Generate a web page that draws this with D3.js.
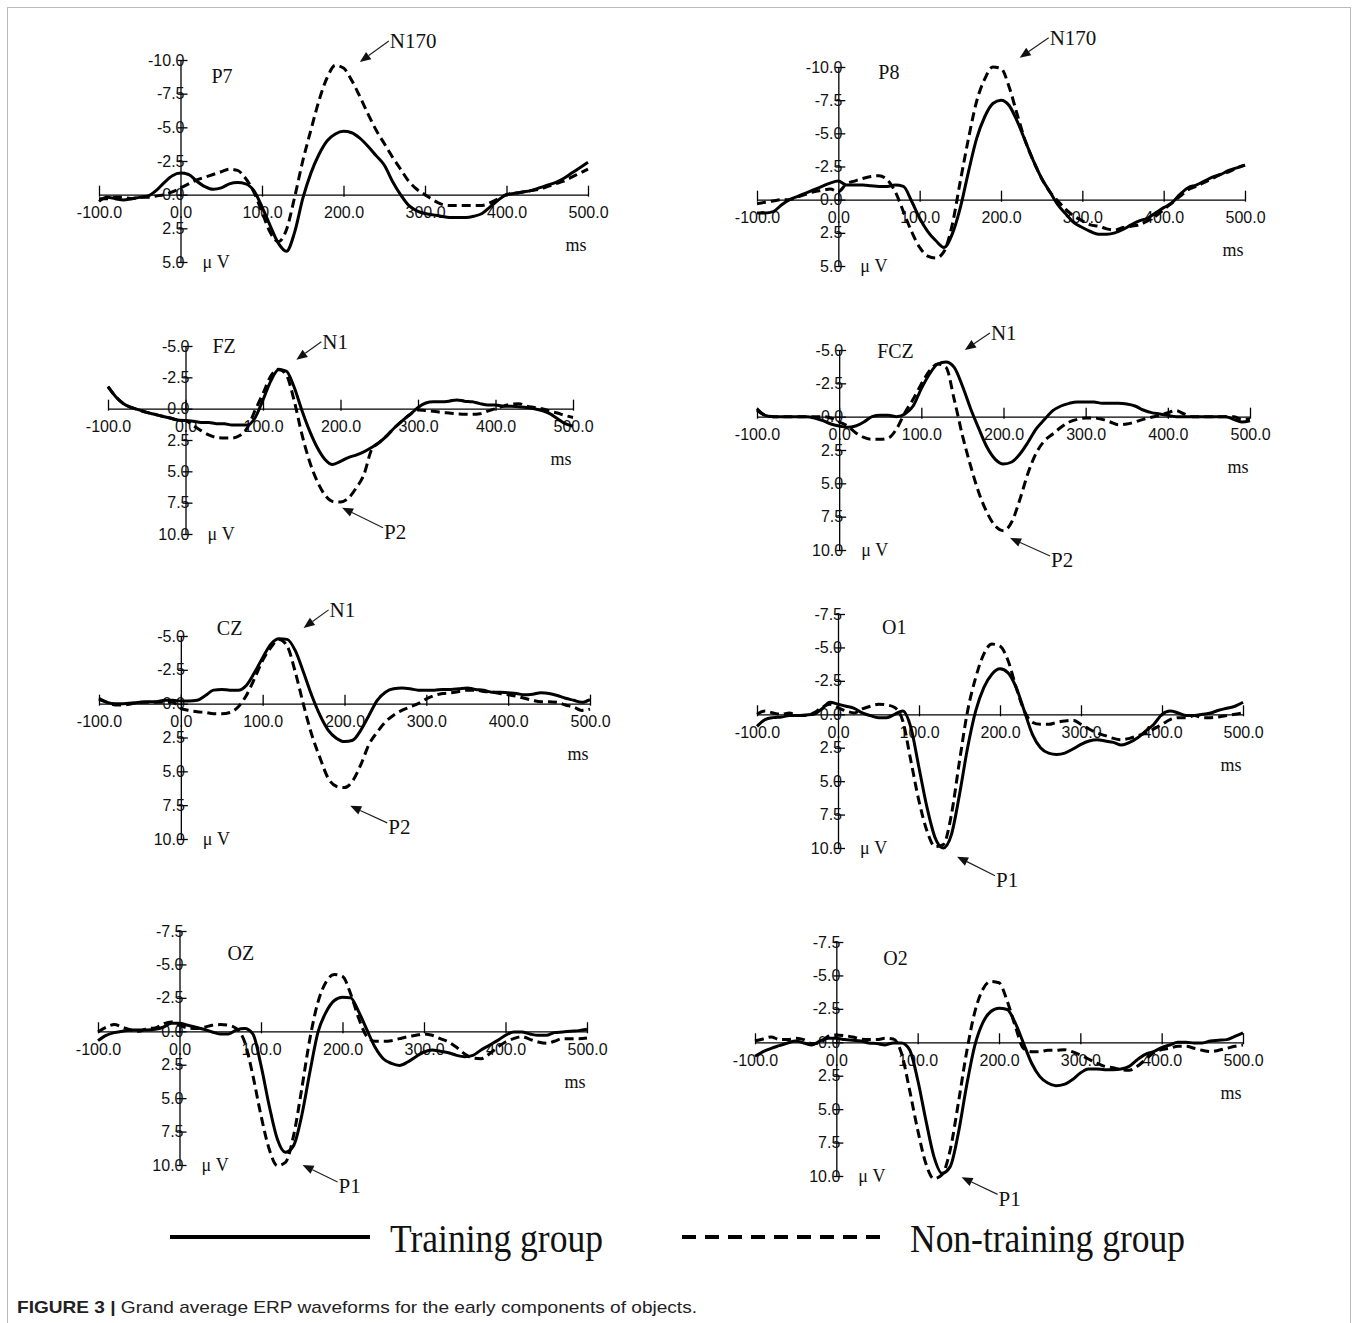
<!DOCTYPE html>
<html>
<head>
<meta charset="utf-8">
<script src="https://cdn.jsdelivr.net/npm/d3@7"></script>
<style>
    body { margin: 0; background: #fff; }
    svg { display: block; }
    .axis text { font-family: "Liberation Sans", Arial, sans-serif; font-size: 16px; fill: #111; }
    .axis path, .axis line { stroke: #000; stroke-width: 1.3; }
    .serif { font-family: "Liberation Serif", "DejaVu Serif", serif; fill: #111; }
</style>
</head>
<body>
<div id="chart-container"></div>
<script>
// sample times (ms) shared by every trace
var times = [-100, -90, -80, -70, -60, -50, -40, -30, -20, -10,
    0, 10, 20, 30, 40, 50, 60, 70, 80, 90,
    100, 110, 120, 130, 140, 150, 160, 170, 180, 190,
    200, 210, 220, 230, 240, 250, 260, 270, 280, 290,
    300, 310, 320, 330, 340, 350, 360, 370, 380, 390,
    400, 410, 420, 430, 440, 450, 460, 470, 480, 490,
    500];

var xTicks = [-100, 0, 100, 200, 300, 400, 500];

var yTicksN170 = [-10, -7.5, -5, -2.5, 0, 2.5, 5];
var yTicksFront = [-5, -2.5, 0, 2.5, 5, 7.5, 10];
var yTicksOcc = [-7.5, -5, -2.5, 0, 2.5, 5, 7.5, 10];

var electrodes = ["P7", "P8", "FZ", "FCZ", "CZ", "O1", "OZ", "O2"];

// amplitudes in uV (negative is drawn upward)
var p7_training = [0.5, 0.2, 0.3, 0.4, 0.3, 0.2, 0.1, -0.3, -0.9, -1.4,
    -1.6, -1.5, -1.0, -0.6, -0.4, -0.5, -0.8, -0.9, -0.8, -0.3,
    0.9, 2.3, 3.6, 4.2, 2.8, 0.3, -1.6, -3.0, -4.0, -4.5,
    -4.7, -4.6, -4.2, -3.6, -2.9, -2.2, -1.0, 0.0, 0.8, 1.2,
    1.4, 1.5, 1.6, 1.7, 1.7, 1.7, 1.6, 1.4, 0.9, 0.4,
    0.0, -0.1, -0.2, -0.3, -0.5, -0.7, -0.9, -1.2, -1.6, -2.0,
    -2.4];
var p7_nontraining = [0.3, 0.3, 0.2, 0.2, 0.3, 0.2, 0.2, 0.1, 0.0, -0.2,
    -0.5, -0.8, -1.1, -1.3, -1.5, -1.7, -1.9, -1.8, -1.2, -0.2,
    1.3, 2.8, 3.5, 2.6, 0.2, -2.5, -4.8, -7.0, -8.7, -9.6,
    -9.4, -8.5, -7.3, -6.0, -4.8, -3.8, -2.8, -1.9, -1.0, -0.4,
    0.0, 0.4, 0.7, 0.8, 0.8, 0.8, 0.8, 0.8, 0.6, 0.3,
    0.0, -0.1, -0.2, -0.3, -0.4, -0.6, -0.8, -1.0, -1.3, -1.6,
    -1.9];

var p8_training = [1.0, 1.0, 0.9, 0.4, 0.0, -0.25, -0.5, -0.75, -1.0, -1.25,
    -1.4, -1.1, -1.1, -1.1, -1.05, -1.0, -1.0, -1.1, -1.0, 0.1,
    1.4, 2.4, 3.1, 3.6, 2.6, 0.6, -2.1, -4.6, -6.25, -7.25,
    -7.5, -7.1, -5.9, -4.4, -2.9, -1.6, -0.6, 0.4, 1.1, 1.75,
    2.1, 2.4, 2.6, 2.6, 2.5, 2.25, 1.9, 1.6, 1.4, 1.0,
    0.6, 0.25, -0.4, -0.9, -1.1, -1.4, -1.7, -1.9, -2.2, -2.4,
    -2.6];
var p8_nontraining = [0.3, 0.2, 0.1, 0.0, 0.0, -0.2, -0.4, -0.6, -0.7, -0.8,
    -0.6, -1.2, -1.4, -1.6, -1.75, -1.8, -1.5, -0.6, 0.9, 2.4,
    3.6, 4.25, 4.4, 3.9, 1.9, -1.4, -4.6, -7.4, -9.1, -10.0,
    -9.9, -8.5, -6.4, -4.4, -2.9, -1.6, -0.6, 0.1, 0.75, 1.25,
    1.6, 1.9, 2.0, 2.2, 2.3, 2.1, 2.0, 1.9, 1.6, 1.25,
    0.75, 0.25, -0.25, -0.75, -1.0, -1.3, -1.6, -1.9, -2.1, -2.4,
    -2.6];

var fz_training = [-1.75, -0.95, -0.4, -0.1, 0.1, 0.3, 0.45, 0.6, 0.75, 0.9,
    0.95, 1.0, 1.1, 1.1, 1.2, 1.2, 1.3, 1.3, 1.3, 0.7,
    -0.7, -2.2, -3.1, -3.0, -1.75, 0.1, 1.75, 3.1, 4.05, 4.45,
    4.2, 3.9, 3.7, 3.45, 3.1, 2.7, 2.15, 1.5, 0.95, 0.45,
    -0.1, -0.45, -0.55, -0.55, -0.6, -0.7, -0.6, -0.55, -0.4, -0.3,
    -0.3, -0.2, -0.2, -0.15, -0.1, 0.0, 0.15, 0.4, 0.8, 1.2,
    1.4];
var fz_nontraining = [-1.75, -0.95, -0.4, -0.1, 0.1, 0.3, 0.45, 0.6, 0.75, 0.9,
    0.95, 1.35, 1.75, 2.1, 2.3, 2.35, 2.35, 2.15, 1.5, 0.1,
    -1.2, -2.6, -3.15, -2.7, -0.7, 2.0, 4.2, 5.8, 6.9, 7.4,
    7.45, 7.15, 6.35, 5.3, 3.3, 2.7, 2.15, 1.5, 0.95, 0.45,
    0.1, 0.15, 0.2, 0.3, 0.35, 0.4, 0.45, 0.45, 0.4, 0.2,
    0.0, -0.2, -0.35, -0.4, -0.2, -0.1, 0.0, 0.2, 0.35, 0.55,
    0.7];

var fcz_training = [-0.6, -0.1, 0, 0, 0, 0, 0, 0.1, 0.3, 0.55,
    0.7, 0.8, 0.7, 0.4, 0.0, -0.1, -0.1, 0.0, -0.2, -0.8,
    -2.1, -3.2, -3.95, -4.1, -3.7, -2.3, -0.6, 0.9, 2.3, 3.2,
    3.55, 3.4, 2.8, 1.9, 0.9, 0.2, -0.45, -0.8, -1.0, -1.1,
    -1.1, -1.1, -1.0, -1.0, -1.0, -0.95, -0.8, -0.5, -0.3, -0.2,
    -0.1, 0, 0, 0, 0, 0, 0, 0, 0.2, 0.4,
    0.3];
var fcz_nontraining = [-0.5, -0.1, 0, 0, 0, 0, 0, 0, 0, 0.1,
    0.4, 0.7, 1.2, 1.55, 1.7, 1.7, 1.6, 0.9, -0.3, -1.3,
    -2.45, -3.45, -3.95, -3.7, -1.3, 1.4, 3.7, 5.7, 7.2, 8.2,
    8.55, 7.9, 6.2, 4.2, 2.7, 1.8, 1.3, 0.8, 0.4, 0.2,
    0.1, 0.1, 0.2, 0.4, 0.6, 0.55, 0.4, 0.2, 0.05, -0.1,
    -0.3, -0.45, -0.2, 0, 0, 0, 0, 0, 0, 0.2,
    0.2];

var cz_training = [-0.4, -0.1, 0, 0, -0.05, -0.1, -0.15, -0.15, -0.25, -0.25,
    -0.2, -0.2, -0.25, -0.6, -1.0, -1.05, -1.0, -1.0, -1.35, -2.3,
    -3.4, -4.4, -4.8, -4.75, -3.9, -2.3, -0.6, 0.85, 1.95, 2.55,
    2.8, 2.7, 1.95, 0.85, -0.25, -0.85, -1.1, -1.15, -1.1, -1.0,
    -1.0, -1.0, -1.05, -1.05, -1.1, -1.15, -1.05, -1.0, -0.85, -0.85,
    -0.8, -0.75, -0.65, -0.7, -0.8, -0.75, -0.6, -0.4, -0.25, -0.1,
    -0.3];
var cz_nontraining = [-0.3, -0.1, 0.1, 0.1, 0, -0.1, -0.1, -0.1, -0.1, -0.1,
    0.35, 0.5, 0.6, 0.65, 0.75, 0.75, 0.65, 0.25, -0.6, -1.85,
    -3.2, -4.15, -4.75, -4.25, -2.3, 0.1, 2.3, 4.0, 5.5, 6.1,
    6.2, 5.7, 4.5, 3.0, 2.1, 1.35, 0.85, 0.5, 0.25, 0.0,
    -0.35, -0.6, -0.75, -0.8, -0.9, -1.0, -1.0, -0.9, -0.85, -0.75,
    -0.65, -0.55, -0.4, -0.25, -0.15, -0.15, -0.1, 0.1, 0.25, 0.5,
    0.4];

var o1_training = [0.9, 0.4, 0.25, 0.2, 0.1, 0.1, 0.05, 0, -0.4, -0.9,
    -0.75, -0.6, -0.45, -0.1, 0.1, 0.25, 0.25, 0, -0.25, 1.0,
    4.0, 7.0, 9.25, 10.0, 9.0, 6.0, 2.5, -0.25, -2.0, -3.0,
    -3.4, -3.1, -2.0, -0.25, 1.5, 2.5, 2.9, 3.0, 2.9, 2.6,
    2.25, 2.0, 1.9, 2.0, 2.1, 2.3, 2.1, 1.75, 1.25, 0.75,
    0, -0.25, -0.1, 0.1, 0.1, 0, -0.1, -0.3, -0.45, -0.6,
    -0.9];
var o1_nontraining = [0, -0.25, -0.1, 0, -0.1, 0.1, 0.1, -0.1, -0.5, -0.75,
    -0.5, -0.25, -0.1, -0.4, -0.6, -0.75, -0.7, -0.5, 0.5, 3.5,
    6.5, 8.75, 9.9, 9.75, 7.5, 3.5, -0.25, -2.75, -4.5, -5.25,
    -5.1, -4.0, -2.0, -0.25, 0.6, 0.75, 0.75, 0.6, 0.5, 0.45,
    0.75, 1.1, 1.4, 1.6, 1.8, 1.9, 1.8, 1.6, 1.4, 1.1,
    0.75, 0.4, 0.25, 0.25, 0.1, 0.25, 0.25, 0.2, 0.1, 0,
    -0.1];

var oz_training = [0.7, 0.3, 0.1, 0, -0.1, -0.1, -0.1, -0.15, -0.3, -0.6,
    -0.6, -0.45, -0.3, -0.15, 0.05, 0.2, 0.2, -0.1, -0.2, 0.2,
    2.55, 5.55, 8.05, 9.05, 8.55, 6.3, 3.05, 0.05, -1.45, -2.3,
    -2.55, -2.5, -1.45, -0.1, 1.2, 2.05, 2.4, 2.55, 2.3, 1.9,
    1.55, 1.4, 1.5, 1.6, 1.8, 1.9, 1.8, 1.4, 1.05, 0.7,
    0.3, 0.05, 0.05, 0.2, 0.3, 0.3, 0.1, 0.05, 0, -0.05,
    -0.15];
var oz_nontraining = [0.05, -0.3, -0.5, -0.3, -0.1, 0, -0.2, -0.25, -0.55, -0.7,
    -0.45, -0.25, -0.2, -0.3, -0.45, -0.5, -0.45, -0.2, 0.8, 3.3,
    6.3, 8.8, 10.05, 9.8, 7.8, 4.3, 0.55, -2.2, -3.7, -4.25,
    -4.1, -2.8, -0.95, 0.4, 0.75, 0.75, 0.7, 0.55, 0.4, 0.3,
    0.2, 0.3, 0.55, 0.8, 1.2, 1.7, 2.0, 2.05, 1.7, 1.2,
    0.8, 0.55, 0.4, 0.6, 0.8, 0.9, 0.75, 0.55, 0.55, 0.55,
    0.5];

var o2_training = [1.05, 0.7, 0.45, 0.25, 0.05, -0.1, 0.05, 0.2, -0.1, -0.3,
    -0.3, -0.2, -0.15, -0.1, 0.05, 0.1, 0.2, 0.05, 0.05, 0.55,
    2.8, 5.8, 8.55, 9.8, 9.3, 6.8, 3.3, 0.3, -1.45, -2.3,
    -2.55, -2.45, -1.45, 0.05, 1.55, 2.55, 3.05, 3.25, 3.15, 2.8,
    2.3, 2.0, 2.0, 2.05, 2.05, 2.0, 1.8, 1.3, 0.9, 0.7,
    0.4, 0.2, 0, 0, 0.05, 0.05, -0.1, -0.15, -0.2, -0.45,
    -0.7];
var o2_nontraining = [-0.1, -0.25, -0.4, -0.2, -0.2, -0.3, -0.2, 0.1, 0.05, -0.45,
    -0.55, -0.5, -0.4, -0.25, -0.2, -0.2, -0.3, -0.25, 0.8, 3.55,
    6.55, 9.05, 10.2, 9.9, 8.05, 4.55, 0.8, -2.2, -3.95, -4.55,
    -4.45, -3.1, -1.2, 0.45, 0.7, 0.7, 0.6, 0.6, 0.55, 0.7,
    0.95, 1.25, 1.55, 1.8, 1.9, 2.05, 2.1, 1.8, 1.3, 0.8,
    0.55, 0.45, 0.3, 0.3, 0.45, 0.6, 0.7, 0.6, 0.45, 0.3,
    0.2];

var trainingSeries = [p7_training, p8_training, fz_training, fcz_training,
    cz_training, o1_training, oz_training, o2_training];
var nontrainingSeries = [p7_nontraining, p8_nontraining, fz_nontraining, fcz_nontraining,
    cz_nontraining, o1_nontraining, oz_nontraining, o2_nontraining];
var yTickSets = [yTicksN170, yTicksN170, yTicksFront, yTicksFront,
    yTicksFront, yTicksOcc, yTicksOcc, yTicksOcc];

// component labels: panel index, text, time (ms) and amplitude (uV) of the arrow tip
var componentPanel = [0, 1, 2, 2, 3, 3, 4, 4, 5, 6, 7];
var componentText = ["N170", "N170", "N1", "P2", "N1", "P2", "N1", "P2", "P1", "P1", "P1"];
var componentTime = [220, 223, 143, 202, 153, 208, 150, 207, 147, 151, 154];
var componentAmp = [-9.85, -10.7, -3.9, 7.9, -5.0, 9.1, -5.6, 7.55, 10.65, 10.0, 10.1];

var legendLabels = ["Training group", "Non-training group"];

// page layout (pixels)
var panelBoxes = [
    { left: 99, right: 588, top: 60, bottom: 262, lx: 31, ly: 16 },
    { left: 757, right: 1245, top: 67, bottom: 266, lx: 40, ly: 5 },
    { left: 108, right: 573, top: 346, bottom: 534, lx: 27, ly: 0 },
    { left: 757, right: 1250, top: 350, bottom: 550, lx: 38, ly: 1 },
    { left: 99, right: 590, top: 636, bottom: 839, lx: 36, ly: -8 },
    { left: 757, right: 1243, top: 614, bottom: 848, lx: 44, ly: 13 },
    { left: 98, right: 587, top: 931, bottom: 1165, lx: 48, ly: 22 },
    { left: 755, right: 1243, top: 942, bottom: 1176, lx: 47, ly: 16 }
];
// arrow tail offset from the tip for each component label
var componentTail = [[29, -21], [29, -20], [25, -18], [41, 20], [25, -17], [40, 18],
    [25, -18], [37, 17], [38, 19], [35, 17], [36, 17]];

function fmt(d) {
    return d.toFixed(1);
}

function draw_panel(svg, i) {
    var box = panelBoxes[i];
    var yTicks = yTickSets[i];

    // Step 1: scales
    var x = d3.scaleLinear().domain([-100, 500]).range([box.left, box.right]);
    var y = d3.scaleLinear()
        .domain([yTicks[0], yTicks[yTicks.length - 1]])
        .range([box.top, box.bottom]);

    var g = svg.append("g");

    // Step 2: x axis through zero, ticks pointing up
    var xAxis = d3.axisBottom(x)
        .tickValues(xTicks)
        .tickFormat(fmt)
        .tickSizeInner(-9)
        .tickSizeOuter(0)
        .tickPadding(12);
    var gx = g.append("g")
        .attr("class", "axis")
        .attr("transform", `translate(0,${y(0)})`)
        .call(xAxis);
    gx.selectAll(".tick line").attr("y1", 2);

    // Step 3: y axis at time zero, crossing ticks
    var yAxis = d3.axisLeft(y)
        .tickValues(yTicks)
        .tickFormat(fmt)
        .tickSizeInner(-7)
        .tickSizeOuter(0)
        .tickPadding(-4);
    var gy = g.append("g")
        .attr("class", "axis")
        .attr("transform", `translate(${x(0)},0)`)
        .call(yAxis);
    gy.selectAll(".tick line").attr("x1", -3);
    g.selectAll(".axis").attr("font-family", null).attr("font-size", null);

    // Step 4: waveforms
    var line = d3.line()
        .x((d, k) => x(times[k]))
        .y(d => y(d))
        .curve(d3.curveMonotoneX);

    g.append("path")
        .datum(nontrainingSeries[i])
        .attr("d", line)
        .attr("fill", "none")
        .attr("stroke", "#000")
        .attr("stroke-width", 3)
        .attr("stroke-dasharray", "9,5");

    g.append("path")
        .datum(trainingSeries[i])
        .attr("d", line)
        .attr("fill", "none")
        .attr("stroke", "#000")
        .attr("stroke-width", 3);

    // Step 5: electrode name, units
    g.append("text")
        .attr("class", "serif")
        .attr("x", x(0) + box.lx)
        .attr("y", y(yTicks[0]) + box.ly)
        .attr("dy", "0.35em")
        .attr("font-size", 20)
        .text(electrodes[i]);

    g.append("text")
        .attr("class", "serif")
        .attr("x", x(0) + 22)
        .attr("y", y(yTicks[yTicks.length - 1]))
        .attr("dy", "0.35em")
        .attr("font-size", 18)
        .text("\u03bc V");

    g.append("text")
        .attr("class", "serif")
        .attr("x", x(500) - 12)
        .attr("y", y(0) + 50)
        .attr("dy", "0.35em")
        .attr("text-anchor", "middle")
        .attr("font-size", 18)
        .text("ms");

    // Step 6: component arrows
    componentPanel.forEach(function(p, c) {
        if (p !== i) return;
        var tx = x(componentTime[c]), ty = y(componentAmp[c]);
        var ex = tx + componentTail[c][0], ey = ty + componentTail[c][1];
        var ang = Math.atan2(ey - ty, ex - tx);
        var len = 11, half = 4.5;
        var bx = tx + len * Math.cos(ang), by = ty + len * Math.sin(ang);
        g.append("line")
            .attr("x1", bx).attr("y1", by)
            .attr("x2", ex).attr("y2", ey)
            .attr("stroke", "#222")
            .attr("stroke-width", 1.2);
        g.append("path")
            .attr("d", d3.line()([
                [tx, ty],
                [bx - half * Math.sin(ang), by + half * Math.cos(ang)],
                [bx + half * Math.sin(ang), by - half * Math.cos(ang)]
            ]) + "Z")
            .attr("fill", "#111");
        g.append("text")
            .attr("class", "serif")
            .attr("x", ex + 1)
            .attr("y", ey + (componentTail[c][1] > 0 ? 4 : 0))
            .attr("dy", "0.35em")
            .attr("font-size", 21)
            .text(componentText[c]);
    });
}

function init() {
    var svg = d3.select("#chart-container")
        .append("svg")
        .attr("width", 1358)
        .attr("height", 1323);

    // frame around the figure
    svg.append("rect")
        .attr("x", 7.5).attr("y", 7.5)
        .attr("width", 1343).attr("height", 1330)
        .attr("fill", "none")
        .attr("stroke", "#bbb")
        .attr("stroke-width", 1);

    for (var i = 0; i < electrodes.length; i++) {
        draw_panel(svg, i);
    }

    // legend
    svg.append("line")
        .attr("x1", 170).attr("x2", 370)
        .attr("y1", 1237).attr("y2", 1237)
        .attr("stroke", "#000").attr("stroke-width", 4);
    svg.append("text")
        .attr("class", "serif")
        .attr("x", 390).attr("y", 1252)
        .attr("font-size", 40)
        .attr("textLength", 213)
        .attr("lengthAdjust", "spacingAndGlyphs")
        .text(legendLabels[0]);
    svg.append("line")
        .attr("x1", 682).attr("x2", 880)
        .attr("y1", 1237).attr("y2", 1237)
        .attr("stroke", "#000").attr("stroke-width", 4)
        .attr("stroke-dasharray", "14,9");
    svg.append("text")
        .attr("class", "serif")
        .attr("x", 910).attr("y", 1252)
        .attr("font-size", 40)
        .attr("textLength", 275)
        .attr("lengthAdjust", "spacingAndGlyphs")
        .text(legendLabels[1]);

    // caption
    var cap = svg.append("text")
        .attr("x", 17).attr("y", 1313)
        .attr("font-family", "Liberation Sans, Arial, sans-serif")
        .attr("font-size", 17)
        .attr("fill", "#222")
        .attr("textLength", 680)
        .attr("lengthAdjust", "spacingAndGlyphs");
    cap.append("tspan").attr("font-weight", "bold").text("FIGURE 3 | ");
    cap.append("tspan").text("Grand average ERP waveforms for the early components of objects.");
}

init();
</script>
</body>
</html>
